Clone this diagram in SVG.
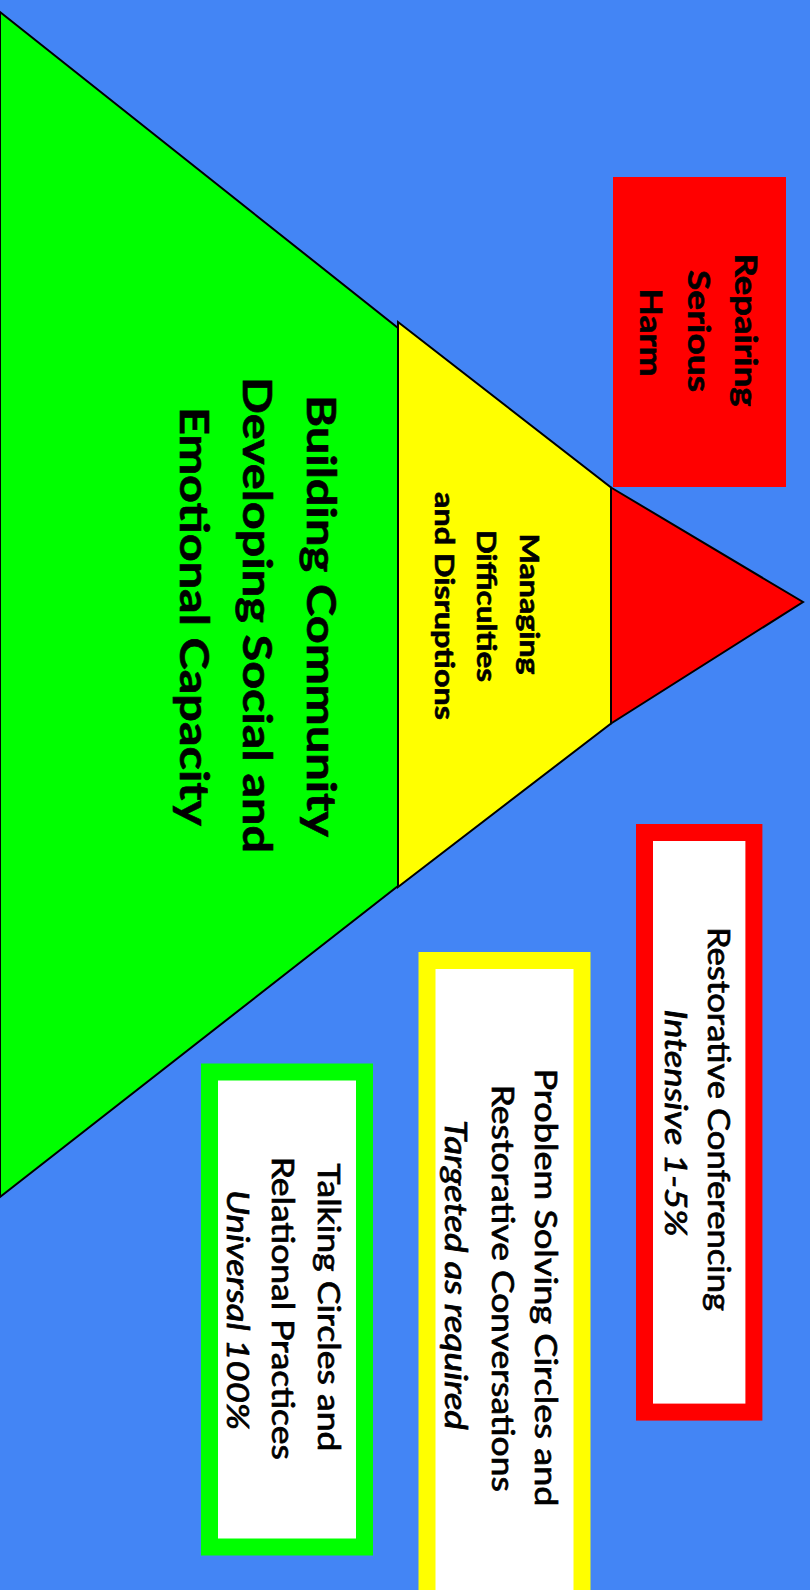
<svg xmlns="http://www.w3.org/2000/svg" width="810" height="1590" viewBox="0 0 810 1590">
<style>
.shape{stroke:#000;stroke-width:2;stroke-linejoin:miter}
.t{font-family:Lato,"Liberation Sans",sans-serif;fill:#000;text-anchor:middle;stroke:#000;stroke-width:0.7}
.b{font-weight:bold;stroke-width:0.6}
.i{font-style:italic}
.frame{fill:#fff;stroke-width:17}
</style>
<rect x="0" y="0" width="810" height="1590" fill="#4385F5"/>
<g id="tier-universal">
<polygon class="shape" fill="#00FF00" points="0,12 398,328 398,886 0,1197"/>
<text class="t b" font-size="41" transform="translate(306.7,616) rotate(90)" textLength="442" lengthAdjust="spacingAndGlyphs">Building Community</text>
<text class="t b" font-size="41" transform="translate(242.7,615) rotate(90)" textLength="476" lengthAdjust="spacingAndGlyphs">Developing Social and</text>
<text class="t b" font-size="41" transform="translate(180,616.5) rotate(90)" textLength="419" lengthAdjust="spacingAndGlyphs">Emotional Capacity</text>
</g>
<g id="tier-targeted">
<polygon class="shape" fill="#FFFF00" points="398,322 611,487.5 611,723.5 398,887"/>
<text class="t b" font-size="27" transform="translate(520,604) rotate(90)" textLength="141" lengthAdjust="spacingAndGlyphs">Managing</text>
<text class="t b" font-size="27" transform="translate(476.7,606) rotate(90)" textLength="152" lengthAdjust="spacingAndGlyphs">Difficulties</text>
<text class="t b" font-size="27" transform="translate(435,606) rotate(90)" textLength="228" lengthAdjust="spacingAndGlyphs">and Disruptions</text>
</g>
<g id="tier-intensive">
<polygon class="shape" fill="#FF0000" points="611,487.5 803,602 611,723.5"/>
</g>
<g id="label-repairing">
<rect x="613" y="177" width="173" height="310" fill="#FF0000"/>
<text class="t b" font-size="31" transform="translate(735,330) rotate(90)" textLength="153" lengthAdjust="spacingAndGlyphs">Repairing</text>
<text class="t b" font-size="31" transform="translate(688.3,331) rotate(90)" textLength="122" lengthAdjust="spacingAndGlyphs">Serious</text>
<text class="t b" font-size="31" transform="translate(640,332.5) rotate(90)" textLength="88" lengthAdjust="spacingAndGlyphs">Harm</text>
</g>
<g id="box-intensive">
<rect class="frame" stroke="#FF0000" x="644.5" y="832.5" width="109.4" height="579.6"/>
<text class="t" font-size="30" transform="translate(708.3,1119) rotate(90)" textLength="384" lengthAdjust="spacingAndGlyphs">Restorative Conferencing</text>
<text class="t i" font-size="30" transform="translate(665,1123) rotate(90)" textLength="227" lengthAdjust="spacingAndGlyphs">Intensive 1-5%</text>
</g>
<g id="box-targeted">
<rect class="frame" stroke="#FFFF00" x="427" y="960.5" width="155" height="700"/>
<text class="t" font-size="30" transform="translate(535,1287.5) rotate(90)" textLength="438" lengthAdjust="spacingAndGlyphs">Problem Solving Circles and</text>
<text class="t" font-size="30" transform="translate(491.7,1288.3) rotate(90)" textLength="407" lengthAdjust="spacingAndGlyphs">Restorative Conversations</text>
<text class="t i" font-size="30" transform="translate(445,1275) rotate(90)" textLength="310" lengthAdjust="spacingAndGlyphs">Targeted as required</text>
</g>
<g id="box-universal">
<rect class="frame" stroke="#00FF00" x="209.5" y="1072" width="155" height="475"/>
<text class="t" font-size="30" transform="translate(318.3,1307.5) rotate(90)" textLength="288" lengthAdjust="spacingAndGlyphs">Talking Circles and</text>
<text class="t" font-size="30" transform="translate(271.7,1308.3) rotate(90)" textLength="303" lengthAdjust="spacingAndGlyphs">Relational Practices</text>
<text class="t i" font-size="30" transform="translate(226.7,1310) rotate(90)" textLength="240" lengthAdjust="spacingAndGlyphs">Universal 100%</text>
</g>
<g id="connectors"></g>
</svg>
